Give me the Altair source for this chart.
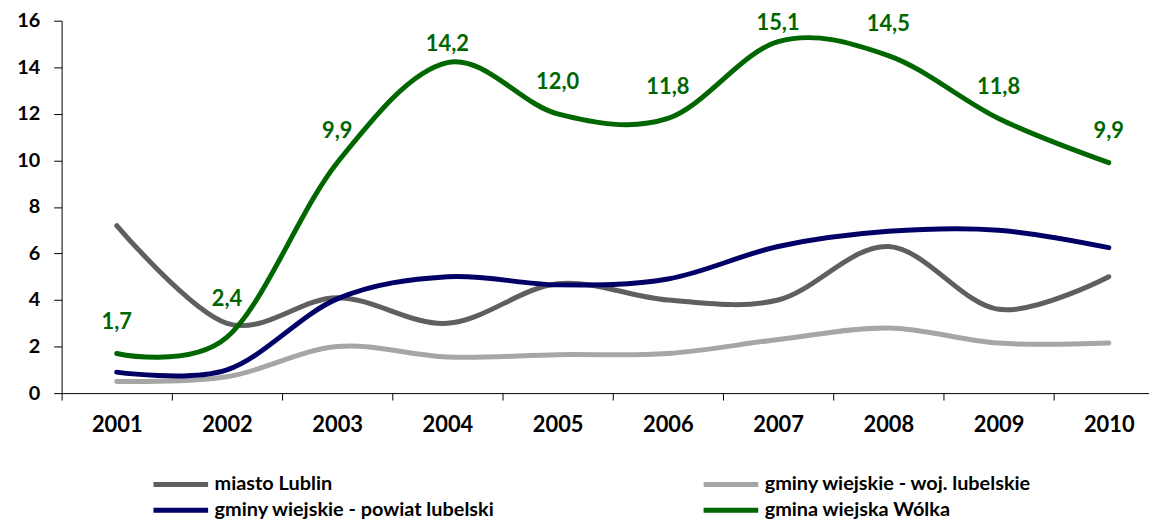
import altair as alt
import pandas as pd

years = ["2001", "2002", "2003", "2004", "2005", "2006", "2007", "2008", "2009", "2010"]
series_names = [
    "miasto Lublin",
    "gminy wiejskie - woj. lubelskie",
    "gminy wiejskie - powiat lubelski",
    "gmina wiejska Wólka",
]
# legend is filled column by column: this order gives rows
# [Lublin, woj.] / [powiat, Wólka] as in the reference
legend_order = [
    "miasto Lublin",
    "gminy wiejskie - powiat lubelski",
    "gminy wiejskie - woj. lubelskie",
    "gmina wiejska Wólka",
]
lublin = [7.2, 3.0, 4.1, 3.0, 4.7, 4.0, 4.0, 6.3, 3.6, 5.0]
woj = [0.5, 0.7, 2.0, 1.55, 1.65, 1.7, 2.3, 2.8, 2.15, 2.15]
powiat = [0.9, 1.0, 4.05, 5.0, 4.65, 4.9, 6.3, 6.95, 7.0, 6.25]
wolka = [1.7, 2.4, 9.9, 14.2, 12.0, 11.8, 15.1, 14.5, 11.8, 9.9]
wolka_labels = ["1,7", "2,4", "9,9", "14,2", "12,0", "11,8", "15,1", "14,5", "11,8", "9,9"]
colors = {"miasto Lublin": "#5f5f5f", "gminy wiejskie - woj. lubelskie": "#a6a6a6",
          "gminy wiejskie - powiat lubelski": "#000066", "gmina wiejska Wólka": "#006600"}
y_ticks = [0, 2, 4, 6, 8, 10, 12, 14, 16]

rows = []
for name, vals in zip(series_names, [lublin, woj, powiat, wolka]):
    for yr, v in zip(years, vals):
        rows.append({"year": yr, "series": name, "value": v})
df = pd.DataFrame(rows)
lab_df = pd.DataFrame({"year": years, "value": wolka, "label": wolka_labels})

FONT = "Lato"

x_enc = alt.X(
    "year:N",
    sort=years,
    bandPosition=0.5,
    scale=alt.Scale(type="band", paddingInner=0, paddingOuter=0, range=[0, 1110]),
    axis=alt.Axis(
        title=None, labelAngle=0, tickBand="extent", tickSize=7, tickColor="black",
        domainColor="black", labelFont=FONT, labelFontWeight="bold", labelFontSize=22,
        labelColor="black", labelPadding=15, grid=False,
    ),
)
y_enc = alt.Y(
    "value:Q",
    scale=alt.Scale(domain=[0, 16], nice=False, zero=True),
    axis=alt.Axis(
        title=None, values=y_ticks, tickSize=8, tickColor="black", domainColor="black",
        labelFont=FONT, labelFontWeight="bold", labelFontSize=20, labelColor="black",
        labelPadding=14, grid=False,
    ),
)

lines = alt.Chart(df).mark_line(
    interpolate="cardinal", strokeWidth=5, strokeCap="round", strokeJoin="round"
).encode(
    x=x_enc,
    y=y_enc,
    color=alt.Color(
        "series:N",
        sort=legend_order,
        scale=alt.Scale(domain=legend_order, range=[colors[n] for n in legend_order]),
        legend=alt.Legend(
            title=None, orient="none", legendX=88, legendY=457, columns=2,
            columnPadding=199, rowPadding=6, symbolType="M-1,0H9", symbolSize=121,
            symbolStrokeWidth=5, labelFont=FONT, labelFontWeight="bold",
            labelFontSize=20, labelColor="black", labelOffset=46, labelLimit=500,
            padding=0,
        ),
    ),
)


def label_layer(sel, dy):
    return alt.Chart(lab_df).transform_filter(
        alt.FieldOneOfPredicate(field="year", oneOf=sel)
    ).mark_text(
        font=FONT, fontWeight="bold", fontSize=22, color="#006600", dy=dy, baseline="middle"
    ).encode(
        x=alt.X("year:N", sort=years, bandPosition=0.5),
        y=alt.Y("value:Q"),
        text="label:N",
    )


lab_main = label_layer(["2001", "2003", "2005", "2006", "2008", "2009", "2010"], -32)
lab_2002 = label_layer(["2002"], -38)
lab_top = label_layer(["2004", "2007"], -19)

chart = alt.layer(lines, lab_main, lab_2002, lab_top).properties(
    width=1095,
    height=375,
    padding={"left": 54, "top": 11, "right": 0, "bottom": 128},
    autosize=alt.AutoSizeParams(type="none"),
    background="white",
).configure_view(stroke=None)

chart.save("out.html", embed_options={"renderer": "svg", "actions": False})
